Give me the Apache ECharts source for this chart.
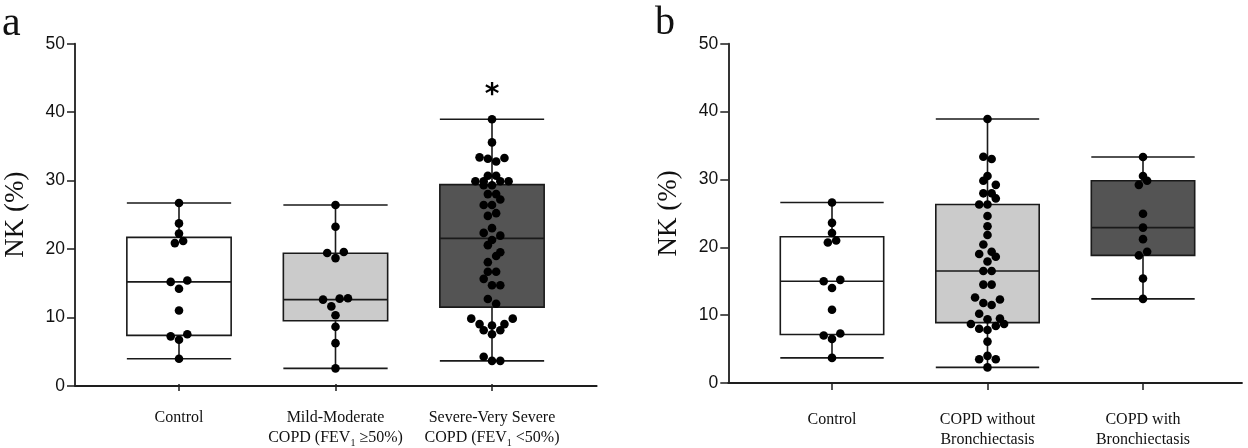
<!DOCTYPE html>
<html><head><meta charset="utf-8">
<script src="https://cdn.jsdelivr.net/npm/echarts@6/dist/echarts.min.js"></script>
<style>html,body{margin:0;padding:0;background:#fff}#c{width:1248px;height:448px}</style>
</head><body><div id="c"></div>
<script>
// ---------- data ----------
const yTicks = [0, 10, 20, 30, 40, 50];
const catsA = ['Control', 'Mild-Moderate COPD (FEV1 ≥50%)', 'Severe-Very Severe COPD (FEV1 <50%)'];
const catsB = ['Control', 'COPD without Bronchiectasis', 'COPD with Bronchiectasis'];
const labelsA = ['{t|Control}', '{t|Mild-Moderate}\n{t|COPD (FEV}{s|1}{t| ≥50%)}', '{t|Severe-Very Severe}\n{t|COPD (FEV}{s|1}{t| <50%)}'];
const labelsB = ['{t|Control}', '{t|COPD without}\n{t|Bronchiectasis}', '{t|COPD with}\n{t|Bronchiectasis}'];

// box stats: [min, Q1, median, Q3, max]
const boxA = [[3.7, 7.15, 15.0, 21.55, 26.6], [2.3, 9.3, 12.4, 19.2, 26.3], [3.4, 11.3, 21.4, 29.3, 38.9]];
const boxB = [[3.7, 7.15, 15.0, 21.55, 26.6], [2.3, 8.9, 16.5, 26.3, 38.9], [12.4, 18.8, 22.9, 29.8, 33.3]];

// individual points (values) and swarm offsets (in dot widths)
const ctrlVals = [26.6, 23.6, 22.1, 20.7, 21.0, 15.0, 15.2, 14.0, 10.8, 7.0, 7.3, 6.5, 3.7];
const ctrlOff  = [0, 0, 0, -0.5, 0.5, -1, 1, 0, 0, -1, 1, 0, 0];
const mildVals = [26.3, 23.1, 19.25, 19.4, 18.5, 12.4, 12.55, 12.6, 11.4, 10.1, 8.4, 6.0, 2.3];
const mildOff  = [0, 0, -1, 1, 0, -1.5, 0.5, 1.5, -0.5, 0, 0, 0, 0];
const sevVals = [38.9, 35.5, 33.3, 33.1, 32.7, 33.2, 30.6, 30.6, 29.8, 29.8, 29.8, 29.8, 29.2, 29.2, 27.9, 27.9, 27.1, 26.3, 26.3, 24.7, 25.1, 22.9, 22.2, 21.8, 21.15, 20.4, 19.35, 18.8, 17.9, 16.5, 16.5, 15.45, 14.5, 14.5, 12.5, 11.8, 9.6, 9.6, 8.8, 8.8, 8.6, 7.9, 7.9, 7.3, 4.0, 3.4, 3.4];
const sevOff  = [0, 0, -1.5, -0.5, 0.5, 1.5, -0.5, 0.5, -2, -1, 1, 2, -1, 0, -0.5, 0.5, 1, -1, 0, -0.5, 0.5, 0, -1, 1, 0, -0.5, 1, 0.5, -0.5, -0.5, 0.5, -1, 0, 1, -0.5, 0.5, -2.5, 2.5, -1.5, 1.5, 0, -1, 1, 0, -1, 0, 1];
const woVals = [38.9, 33.35, 33.0, 30.5, 29.8, 29.2, 27.95, 27.95, 27.2, 26.3, 26.3, 24.6, 23.1, 21.8, 20.4, 19.0, 19.35, 18.6, 17.9, 16.5, 16.5, 14.5, 14.5, 12.6, 12.3, 11.8, 11.5, 10.2, 9.4, 9.5, 8.7, 8.0, 7.8, 8.4, 8.7, 6.1, 4.0, 3.5, 3.5, 2.3];
const woOff  = [0, -0.5, 0.5, 0, -0.5, 1, -0.5, 0.5, 1, -1, 0, 0, 0, 0, -0.5, -1, 0.5, 1, 0, -0.5, 0.5, -0.5, 0.5, -1.5, 1.5, -0.5, 0.5, -1, 0, 1.5, -2, -1, 0, 1, 2, 0, 0, -1, 1, 0];
const withVals = [33.3, 30.5, 29.8, 29.2, 24.95, 22.9, 21.2, 19.35, 18.8, 15.4, 12.4];
const withOff  = [0, 0, 0.5, -0.5, 0, 0, 0, 0.5, -0.5, 0, 0];

const starA = [[2, 42.4]];

// ---------- build ----------
const fills = ['#ffffff', '#cbcbcb', '#545454'];
const DOT_A = 8.3 / 156.5, DOT_B = 8.3 / 155.5;
function pts(cat, vals, offs, step) { return vals.map((v, i) => [cat + offs[i] * step, v]); }
const ptsA = [].concat(pts(0, ctrlVals, ctrlOff, DOT_A), pts(1, mildVals, mildOff, DOT_A), pts(2, sevVals, sevOff, DOT_A));
const ptsB = [].concat(pts(0, ctrlVals, ctrlOff, DOT_B), pts(1, woVals, woOff, DOT_B), pts(2, withVals, withOff, DOT_B));

const AX = '#1e1e1e';
const SERIF = 'Liberation Serif, Times New Roman, serif';
const rich = {
  t: { fontFamily: SERIF, fontSize: 16, lineHeight: 20, color: '#111' },
  s: { fontFamily: SERIF, fontSize: 10, lineHeight: 20, verticalAlign: 'bottom', color: '#111' }
};
function frameX(g) { return { gridIndex: g, type: 'value', min: 0, max: 1, axisLine: { show: true, lineStyle: { color: AX, width: 1.8 } }, axisTick: { show: false }, axisLabel: { show: false }, splitLine: { show: false } }; }
function catX(g, cats, labels, margin) {
  return { gridIndex: g, type: 'category', data: cats, axisLine: { show: false },
    axisTick: { show: true, alignWithLabel: true, length: 7, lineStyle: { color: AX, width: 1.5 } },
    axisLabel: { interval: 0, margin: margin, formatter: (v, i) => labels[i], rich: rich }, splitLine: { show: false } };
}
function valX(g) { return { gridIndex: g, type: 'value', min: -0.5, max: 2.5, show: false }; }
function frameY(g) {
  return { gridIndex: g, type: 'value', min: 0, max: 50, interval: 10,
    axisLine: { show: true, lineStyle: { color: AX, width: 1.8 } },
    axisTick: { show: true, length: 8, lineStyle: { color: AX, width: 1.5 } },
    axisLabel: { margin: 10, fontFamily: 'Liberation Sans, Arial, sans-serif', fontSize: 17.5, color: '#111',
      formatter: v => yTicks.includes(v) ? String(v) : '' },
    splitLine: { show: false },
    name: 'NK (%)', nameLocation: 'middle', nameGap: 46,
    nameTextStyle: { fontFamily: SERIF, fontSize: 27, color: '#111' } };
}
function hidY(g) { return { gridIndex: g, type: 'value', min: 0, max: 50, show: false }; }
function box(xi, yi, data, w) {
  return { type: 'boxplot', xAxisIndex: xi, yAxisIndex: yi, boxWidth: [w, w], silent: true,
    data: data.map((b, i) => ({ value: b, itemStyle: { color: fills[i], borderColor: '#1a1a1a', borderWidth: 1.6 } })) };
}
function dots(xi, yi, data) {
  return { type: 'scatter', xAxisIndex: xi, yAxisIndex: yi, data: data, symbolSize: 8.6, silent: true,
    itemStyle: { color: '#000', opacity: 1 }, z: 5 };
}

const option = {
  animation: false,
  backgroundColor: '#fff',
  title: [
    { text: 'a', left: -3, top: -2, textStyle: { fontFamily: SERIF, fontSize: 42, fontWeight: 'normal', color: '#111' } },
    { text: 'b', left: 650, top: -2, textStyle: { fontFamily: SERIF, fontSize: 40, fontWeight: 'normal', color: '#111' } }
  ],
  grid: [
    { left: 75, top: 43.7, width: 521.7, height: 342 },
    { left: 100.75, top: 43.7, width: 469.5, height: 342 },
    { left: 728.3, top: 43.7, width: 513.7, height: 339.3 },
    { left: 754.25, top: 43.7, width: 466.5, height: 339.3 }
  ],
  xAxis: [frameX(0), catX(1, catsA, labelsA, 24), valX(1), frameX(2), catX(3, catsB, labelsB, 27), valX(3)],
  yAxis: [frameY(0), hidY(1), frameY(2), hidY(3)],
  series: [
    box(1, 1, boxA, 104.3),
    dots(2, 1, ptsA),
    { type: 'scatter', xAxisIndex: 2, yAxisIndex: 1, data: starA, symbolSize: 2, silent: true, z: 6,
      itemStyle: { color: 'rgba(0,0,0,0)', opacity: 1 },
      label: { show: true, position: 'inside', formatter: '*', fontFamily: 'DejaVu Sans, sans-serif', fontSize: 28, fontWeight: 'bold', color: '#000', opacity: 1 } },
    box(4, 3, boxB, 103.4),
    dots(5, 3, ptsB)
  ]
};
echarts.init(document.getElementById('c')).setOption(option);
</script></body></html>
